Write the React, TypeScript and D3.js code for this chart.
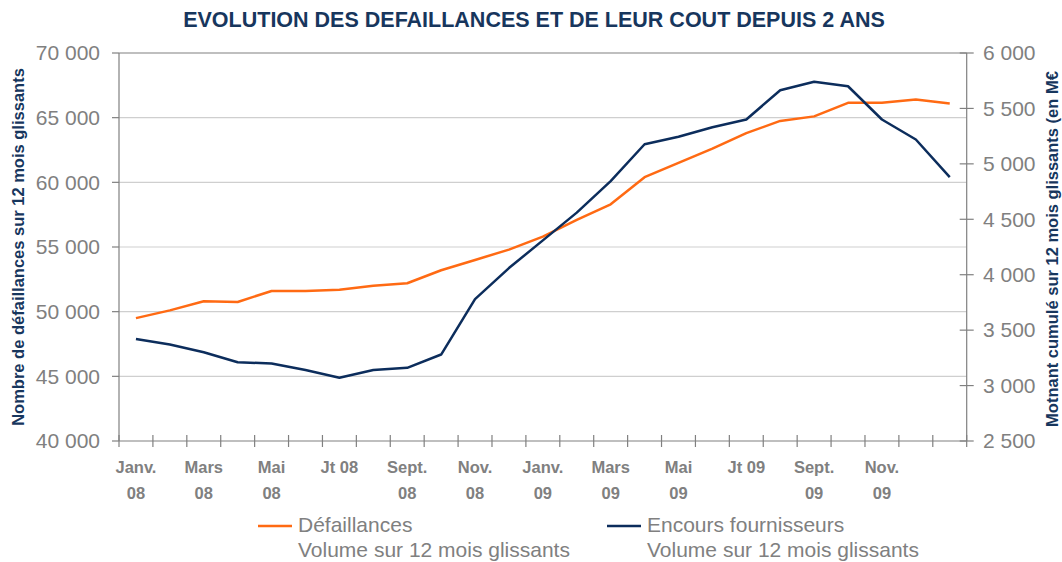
import React from "react";
import * as d3 from "d3";

const months = [
  "Janv. 08", "Févr. 08", "Mars 08", "Avr. 08", "Mai 08", "Juin 08", "Jt 08", "Août 08",
  "Sept. 08", "Oct. 08", "Nov. 08", "Déc. 08", "Janv. 09", "Févr. 09", "Mars 09", "Avr. 09",
  "Mai 09", "Juin 09", "Jt 09", "Août 09", "Sept. 09", "Oct. 09", "Nov. 09", "Déc. 09", "Janv. 10",
];
// axis labels (line 1 / line 2), shown every second month
const labelLine1 = ["Janv.", "", "Mars", "", "Mai", "", "Jt 08", "", "Sept.", "", "Nov.", "", "Janv.", "", "Mars", "", "Mai", "", "Jt 09", "", "Sept.", "", "Nov.", "", ""];
const labelLine2 = ["08", "", "08", "", "08", "", "", "", "08", "", "08", "", "09", "", "09", "", "09", "", "", "", "09", "", "09", "", ""];

const defaillances = [49500, 50100, 50800, 50750, 51600, 51600, 51700, 52000, 52200, 53200, 54000, 54800, 55800, 57100, 58300, 60400, 61500, 62600, 63800, 64750, 65100, 66150, 66150, 66400, 66100];
const encours = [3420, 3370, 3300, 3210, 3200, 3140, 3070, 3140, 3160, 3280, 3780, 4060, 4310, 4560, 4845, 5177, 5245, 5330, 5400, 5664, 5740, 5700, 5400, 5220, 4880];

const leftTicks = [40000, 45000, 50000, 55000, 60000, 65000, 70000];
const rightTicks = [2500, 3000, 3500, 4000, 4500, 5000, 5500, 6000];

const title = "EVOLUTION DES DEFAILLANCES ET DE LEUR COUT DEPUIS 2 ANS";
const leftTitle = "Nombre de défaillances sur 12 mois glissants";
const rightTitle = "Motnant cumulé sur 12 mois glissants (en M€";
const legendItems = [
  { name: "Défaillances", sub: "Volume sur 12 mois glissants" },
  { name: "Encours fournisseurs", sub: "Volume sur 12 mois glissants" },
];

const W = 1062, H = 562;
const L = 119, R = 966.7, T = 53, B = 441;
const ORANGE = "#FF6A13";
const BLUE = "#0C2D5C";
const NAVY = "#17365D";
const GRAY = "#808080";
const FONT = "'Liberation Sans', Arial, sans-serif";

const fmt = (v: number) => d3.format(",")(v).replace(/,/g, " ");

export default function App() {
  const x = d3.scaleBand<number>().domain(d3.range(months.length)).range([L, R]).padding(0);
  const cx = (i: number) => (x(i) as number) + x.bandwidth() / 2;
  const yL = d3.scaleLinear().domain([40000, 70000]).range([B, T]);
  const yR = d3.scaleLinear().domain([2500, 6000]).range([B, T]);

  const lineL = d3.line<number>().x((_, i) => cx(i)).y((d) => yL(d));
  const lineR = d3.line<number>().x((_, i) => cx(i)).y((d) => yR(d));
  const boundaries = d3.range(months.length + 1).map((i) => (i < months.length ? (x(i) as number) : R));

  return (
    <svg width={W} height={H} style={{ display: "block", position: "absolute", left: 0, top: 0, background: "#fff" }} fontFamily={FONT}>
      <text x={534} y={27} textAnchor="middle" fontSize={21.5} fontWeight="bold" fill={NAVY}>{title}</text>

      {/* gridlines */}
      {leftTicks.slice(1, -1).map((t) => (
        <line key={t} x1={L} x2={R} y1={yL(t)} y2={yL(t)} stroke="#CFCFCF" strokeWidth={1.2} />
      ))}
      {/* top border */}
      <line x1={L} x2={R} y1={T} y2={T} stroke={GRAY} strokeWidth={1.2} />

      {/* left axis */}
      <line x1={L} x2={L} y1={T} y2={B} stroke={GRAY} strokeWidth={1.2} />
      {leftTicks.map((t) => (
        <g key={t}>
          <line x1={L - 7} x2={L} y1={yL(t)} y2={yL(t)} stroke={GRAY} strokeWidth={1.2} />
          <text x={100} y={yL(t)} dy="0.35em" textAnchor="end" fontSize={21} fill={GRAY}>{fmt(t)}</text>
        </g>
      ))}

      {/* right axis */}
      <line x1={R} x2={R} y1={T} y2={B} stroke={GRAY} strokeWidth={1.2} />
      {rightTicks.map((t) => (
        <g key={t}>
          <line x1={R - 7} x2={R + 7} y1={yR(t)} y2={yR(t)} stroke={GRAY} strokeWidth={1.2} />
          <text x={983} y={yR(t)} dy="0.35em" textAnchor="start" fontSize={21} fill={GRAY}>{fmt(t)}</text>
        </g>
      ))}

      {/* bottom axis */}
      <line x1={L} x2={R} y1={B} y2={B} stroke={GRAY} strokeWidth={1.2} />
      {boundaries.map((bx, i) => (
        <line key={i} x1={bx} x2={bx} y1={B - 6} y2={B + 6} stroke={GRAY} strokeWidth={1.2} />
      ))}
      {months.map((m, i) => (
        <g key={m}>
          {labelLine1[i] && (
            <text x={cx(i)} y={473} textAnchor="middle" fontSize={16.5} fontWeight="bold" fill={GRAY}>{labelLine1[i]}</text>
          )}
          {labelLine2[i] && (
            <text x={cx(i)} y={499} textAnchor="middle" fontSize={16.5} fontWeight="bold" fill={GRAY}>{labelLine2[i]}</text>
          )}
        </g>
      ))}

      {/* axis titles */}
      <text transform={`translate(24,${(T + B) / 2}) rotate(-90)`} textAnchor="middle" fontSize={16.5} fontWeight="bold" fill={NAVY}>{leftTitle}</text>
      <text transform={`translate(1058,${(T + B) / 2 + 2}) rotate(-90)`} textAnchor="middle" fontSize={16.5} fontWeight="bold" fill={NAVY}>{rightTitle}</text>

      {/* series */}
      <path d={lineL(defaillances) as string} fill="none" stroke={ORANGE} strokeWidth={2.5} strokeLinejoin="round" />
      <path d={lineR(encours) as string} fill="none" stroke={BLUE} strokeWidth={2.5} strokeLinejoin="round" />

      {/* legend */}
      {legendItems.map((it, k) => {
        const lx = k === 0 ? 258 : 607;
        return (
          <g key={it.name}>
            <line x1={lx} x2={lx + 34} y1={526} y2={526} stroke={k === 0 ? ORANGE : BLUE} strokeWidth={2.5} />
            <text x={lx + 40} y={532} fontSize={21} fill={GRAY}>{it.name}</text>
            <text x={lx + 40} y={557} fontSize={21} fill={GRAY}>{it.sub}</text>
          </g>
        );
      })}
    </svg>
  );
}
